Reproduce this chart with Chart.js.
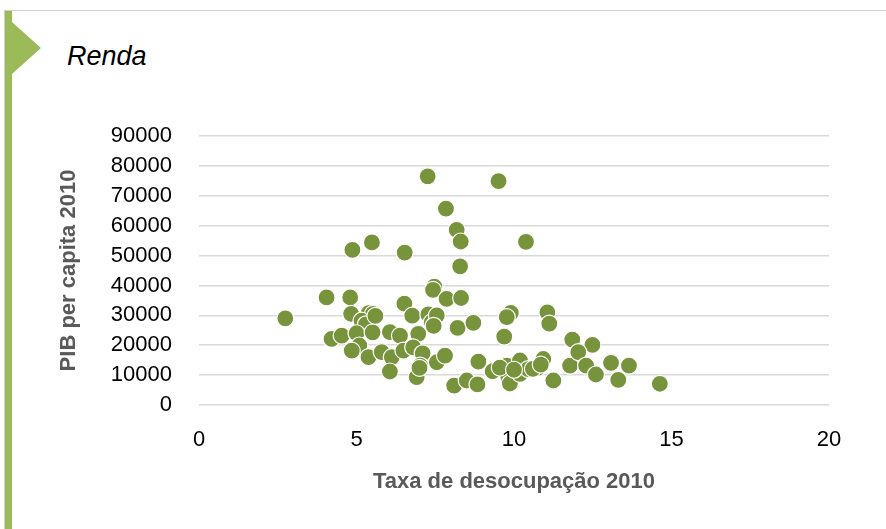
<!DOCTYPE html>
<html>
<head>
<meta charset="utf-8">
<script src="https://cdn.jsdelivr.net/npm/chart.js@4.4.1/dist/chart.umd.min.js"></script>
<style>
  html, body { margin: 0; padding: 0; background: #fff; }
  #wrap { position: relative; width: 886px; height: 529px; overflow: hidden; }
  #topline { position: absolute; left: 4px; top: 10px; width: 882px; height: 1px; background: #cfcfcf; }
  #leftline { position: absolute; left: 4px; top: 10px; width: 1px; height: 519px; background: #cfcfcf; }
  #bar { position: absolute; left: 5px; top: 11px; width: 7px; height: 518px; background: #9bbb59; }
  #tri { position: absolute; left: 12px; top: 22px; width: 0; height: 0;
         border-top: 26px solid transparent; border-bottom: 26px solid transparent;
         border-left: 29px solid #9bbb59; }
  #title { position: absolute; left: 67px; top: 41px; font: italic 27px 'Liberation Sans', Arial, sans-serif; color: #000; }
  canvas { position: absolute; left: 0; top: 0; }
</style>
</head>
<body>
<div id="wrap">
  <div id="topline"></div>
  <div id="leftline"></div>
  <div id="bar"></div>
  <div id="tri"></div>
  <div id="title">Renda</div>
  <canvas id="myChart" width="886" height="529"></canvas>
</div>
<script>
// taxa de desocupação 2010 (x) e PIB per capita 2010 (y)
const desocupacao = [
  2.74, 4.05, 4.80, 4.87, 5.49, 6.53, 7.26, 9.51, 7.84, 8.18,
  8.31, 10.38, 8.29, 7.47, 7.43, 7.86, 8.32, 6.52, 6.77, 7.28,
  7.39, 7.55, 7.45, 4.83, 5.38, 5.52, 5.16, 5.30, 8.21, 8.71,
  9.90, 9.77, 11.06, 11.12, 9.69, 4.21, 4.53, 5.00, 5.51, 6.06,
  6.38, 6.96, 5.09, 4.85, 5.38, 5.80, 6.12, 6.49, 6.80, 7.10,
  7.55, 7.81, 7.02, 6.06, 6.91, 8.10, 8.50, 8.84, 8.87, 9.32,
  9.77, 9.82, 9.87, 9.55, 10.19, 10.19, 10.45, 10.75, 10.93, 11.25,
  11.78, 11.85, 12.49, 12.04, 12.29, 12.60, 13.08, 13.65, 13.31, 14.63,
  5.60, 10.00, 10.60, 10.85, 7.00
]
const pibPerCapita = [
  29000, 36000, 36000, 51900, 54400, 51000, 76500, 74900, 65700, 58600,
  54700, 54600, 46400, 39600, 38500, 35500, 35800, 33900, 29900, 30300,
  27700, 30000, 26500, 30500, 30700, 30500, 28200, 27000, 25800, 27500,
  30800, 29400, 31000, 27200, 22900, 22100, 23200, 24000, 24300, 24400,
  23200, 23800, 19900, 18200, 16000, 17700, 16000, 18200, 19300, 17300,
  14300, 16500, 13200, 11200, 9300, 6500, 8200, 6900, 14500, 11300,
  13200, 9300, 7200, 12500, 14900, 10400, 12000, 12400, 15400, 8200,
  13200, 21900, 20100, 17700, 13200, 10200, 14100, 13200, 8400, 7100,
  29800, 11800, 12100, 13500, 12400
]
const xTicks = [0, 5, 10, 15, 20]
const yTicks = [0, 10000, 20000, 30000, 40000, 50000, 60000, 70000, 80000, 90000]

const pontos = desocupacao.map((x, i) => ({ x: x, y: pibPerCapita[i] }))

const fonte = "'Liberation Sans', Arial, sans-serif"
const ctx = document.getElementById('myChart')

new Chart(ctx, {
    type: 'scatter',
    data: {
        datasets: [{
            label: 'Renda',
            data: pontos,
            backgroundColor: '#77933c',
            borderColor: '#ffffff',
            borderWidth: 1.2,
            pointRadius: 8.5,
            pointHoverRadius: 8.5
        }]
    },
    options: {
        responsive: false,
        animation: false,
        layout: { padding: { left: 50, top: 136, right: 57, bottom: 0 } },
        plugins: { legend: { display: false }, tooltip: { enabled: false } },
        scales: {
            x: {
                type: 'linear',
                min: xTicks[0],
                max: xTicks[xTicks.length - 1],
                afterBuildTicks: (scale) => { scale.ticks = xTicks.map(v => ({ value: v })) },
                afterFit: (scale) => { scale.height = 124 },
                grid: { display: false, drawTicks: false },
                border: { display: false },
                ticks: { padding: 22, color: '#000', font: { family: fonte, size: 22 }, callback: (v) => String(v) },
                title: {
                    display: true,
                    text: 'Taxa de desocupação 2010',
                    color: '#595959',
                    font: { family: fonte, size: 22, weight: 'bold' },
                    padding: { top: 34, bottom: 34 }
                }
            },
            y: {
                min: yTicks[0],
                max: yTicks[yTicks.length - 1],
                afterBuildTicks: (scale) => { scale.ticks = yTicks.map(v => ({ value: v })) },
                afterFit: (scale) => { scale.width = 149 },
                grid: { color: '#d9d9d9', lineWidth: 1.5, drawTicks: false },
                border: { display: false },
                ticks: { padding: 27, color: '#000', font: { family: fonte, size: 22 }, callback: (v) => String(v) },
                title: {
                    display: true,
                    text: 'PIB per capita 2010',
                    color: '#595959',
                    font: { family: fonte, size: 22, weight: 'bold' },
                    padding: { top: 6, bottom: 6 }
                }
            }
        }
    }
})
</script>
</body>
</html>
